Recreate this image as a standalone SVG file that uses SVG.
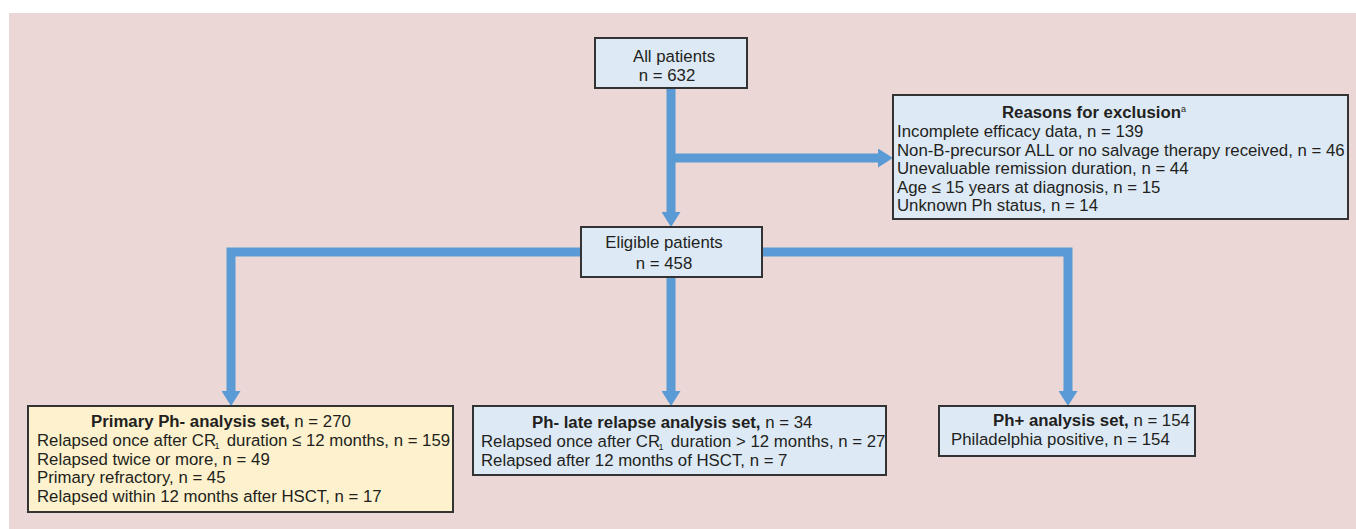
<svg xmlns="http://www.w3.org/2000/svg" width="1356" height="529" viewBox="0 0 1356 529">
<style>
text{font-family:"Liberation Sans",Arial,sans-serif;font-size:16.8px;fill:#231f20}
.b{font-weight:bold}
.box{stroke:#333;stroke-width:2}
.blue{fill:#ddeaf6}
.yel{fill:#fdf2cd}
.conn{fill:none;stroke:#5b9bd5;stroke-width:9;stroke-linejoin:miter}
.sub{font-size:9px}
</style>
<defs>
<marker id="ah" markerUnits="userSpaceOnUse" markerWidth="15" markerHeight="19" viewBox="0 -9.5 15 19" refX="0" refY="0" orient="auto">
<path d="M0,-9.5 L15,0 L0,9.5 z" fill="#5b9bd5"/>
</marker>
</defs>
<rect x="0" y="0" width="1356" height="529" fill="#ffffff"/>
<rect x="9" y="13" width="1347" height="516" fill="#ead7d6"/>
<g id="connectors">
<path class="conn" d="M671,88 V212" marker-end="url(#ah)"/>
<path class="conn" d="M675,158 H878" marker-end="url(#ah)"/>
<path class="conn" d="M581,252 H231 V391" marker-end="url(#ah)"/>
<path class="conn" d="M762,252 H1068 V391" marker-end="url(#ah)"/>
<path class="conn" d="M671,277 V391" marker-end="url(#ah)"/>
</g>
<g id="all-patients">
<rect class="box blue" x="595" y="38" width="152" height="50"/>
<text x="674" y="62" text-anchor="middle">All patients</text>
<text x="667" y="81" text-anchor="middle">n = 632</text>
</g>
<g id="exclusion">
<rect class="box blue" x="893" y="95" width="455" height="124"/>
<text x="1094" y="118" text-anchor="middle"><tspan class="b">Reasons for exclusion</tspan><tspan class="sub" dy="-6">a</tspan></text>
<text x="897" y="137">Incomplete efficacy data, n = 139</text>
<text x="897" y="155.5">Non-B-precursor ALL or no salvage therapy received, n = 46</text>
<text x="897" y="174">Unevaluable remission duration, n = 44</text>
<text x="897" y="192.5">Age ≤ 15 years at diagnosis, n = 15</text>
<text x="897" y="211">Unknown Ph status, n = 14</text>
</g>
<g id="eligible">
<rect class="box blue" x="581" y="227" width="181" height="50"/>
<text x="664" y="248" text-anchor="middle">Eligible patients</text>
<text x="664" y="269" text-anchor="middle">n = 458</text>
</g>
<g id="primary">
<rect class="box yel" x="28" y="406" width="425" height="106"/>
<text x="91" y="427"><tspan class="b">Primary Ph- analysis set,</tspan> n = 270</text>
<text x="37" y="446">Relapsed once after CR<tspan dx="6"> duration ≤ 12 months, n = 159</tspan></text>
<text class="sub" x="214.5" y="448.5">1</text>
<text x="37" y="464.5">Relapsed twice or more, n = 49</text>
<text x="37" y="483">Primary refractory, n = 45</text>
<text x="37" y="501.5">Relapsed within 12 months after HSCT, n = 17</text>
</g>
<g id="late">
<rect class="box blue" x="473" y="406" width="413" height="69"/>
<text x="532" y="428"><tspan class="b">Ph- late relapse analysis set,</tspan> n = 34</text>
<text x="481" y="447">Relapsed once after CR<tspan dx="6"> duration &gt; 12 months, n = 27</tspan></text>
<text class="sub" x="658.5" y="449.5">1</text>
<text x="481" y="465.5">Relapsed after 12 months of HSCT, n = 7</text>
</g>
<g id="phplus">
<rect class="box blue" x="939" y="406" width="256" height="50"/>
<text x="993" y="426"><tspan class="b">Ph+ analysis set,</tspan> n = 154</text>
<text x="951" y="445">Philadelphia positive, n = 154</text>
</g>
</svg>
